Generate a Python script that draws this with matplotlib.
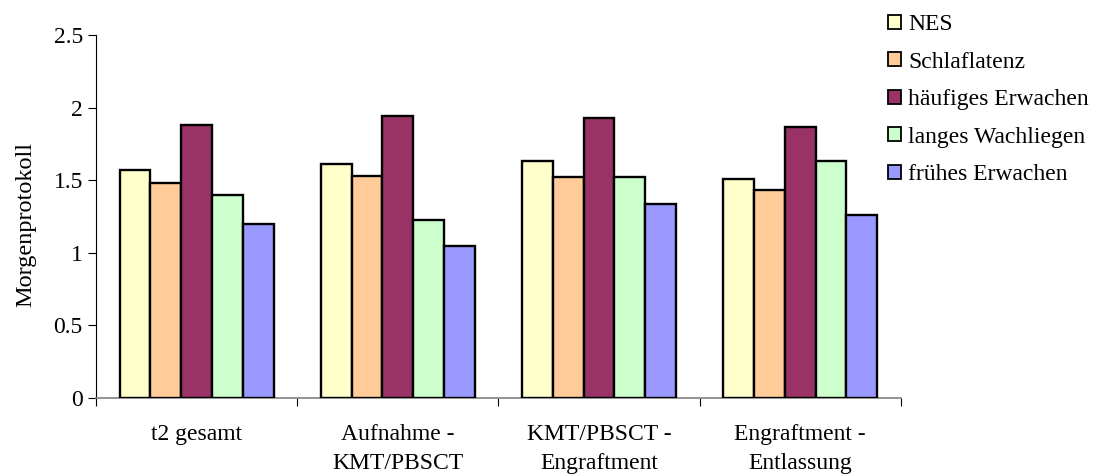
import numpy as np
import matplotlib.pyplot as plt
from matplotlib.patches import Patch

categories = ["t2 gesamt", "Aufnahme -\nKMT/PBSCT", "KMT/PBSCT -\nEngraftment", "Engraftment -\nEntlassung"]
series_names = ["NES", "Schlaflatenz", "häufiges Erwachen", "langes Wachliegen", "frühes Erwachen"]
nes = [1.57, 1.61, 1.63, 1.51]
schlaflatenz = [1.48, 1.53, 1.52, 1.43]
haeufiges_erwachen = [1.88, 1.94, 1.93, 1.87]
langes_wachliegen = [1.40, 1.23, 1.52, 1.63]
fruehes_erwachen = [1.20, 1.05, 1.34, 1.26]
colors = ["#FFFFCC", "#FFCC99", "#993366", "#CCFFCC", "#9999FF"]
y_ticks = [0, 0.5, 1, 1.5, 2, 2.5]
y_tick_labels = ["0", "0.5", "1", "1.5", "2", "2.5"]

plt.rcParams['font.family'] = ['Liberation Serif', 'DejaVu Serif']
FS = 17

fig = plt.figure(figsize=(10.95, 4.75), dpi=100)
ax = fig.add_axes([0.0877, 0.162, 0.735, 0.764])

series = [nes, schlaflatenz, haeufiges_erwachen, langes_wachliegen, fruehes_erwachen]
x = np.arange(len(categories))
bw = 0.153
for i, (vals, col) in enumerate(zip(series, colors)):
    ax.bar(x + (i - 2) * bw, vals, width=bw, color=col, edgecolor='black',
           linewidth=1.7, zorder=3)

ax.set_xlim(-0.5, len(categories) - 0.5)
ax.set_ylim(0, 2.5)
ax.set_yticks(y_ticks)
ax.set_yticklabels(y_tick_labels, fontsize=FS)
ax.set_ylabel("Morgenprotokoll", fontsize=17.5)
ax.yaxis.set_label_coords(-0.074, 0.479)

# Category boundaries carry the tick marks; labels sit at the centres
ax.set_xticks(np.arange(len(categories) + 1) - 0.5)
ax.set_xticklabels([])
ax.set_xticks(x, minor=True)
ax.set_xticklabels(categories, minor=True, fontsize=FS, linespacing=1.45)
ax.tick_params(axis='x', which='major', direction='out', length=6, width=0.8, color='black')
ax.tick_params(axis='x', which='minor', length=0, pad=19)
ax.tick_params(axis='y', direction='out', length=5.5, width=0.8, pad=4)

for s in ['top', 'right']:
    ax.spines[s].set_visible(False)
ax.spines['left'].set_color('black')
ax.spines['left'].set_linewidth(0.8)
ax.spines['bottom'].set_color('#808080')
ax.spines['bottom'].set_linewidth(1.2)

handles = [Patch(facecolor=c, edgecolor='black', linewidth=1.3) for c in colors]
fig.legend(handles, series_names, loc='upper left', bbox_to_anchor=(888 / 1095, 1 - 14 / 475),
           frameon=False, fontsize=FS, handlelength=0.55, handleheight=0.55,
           handletextpad=0.3, labelspacing=0.7, borderaxespad=0, borderpad=0)

fig.savefig("out.png", dpi=100)
